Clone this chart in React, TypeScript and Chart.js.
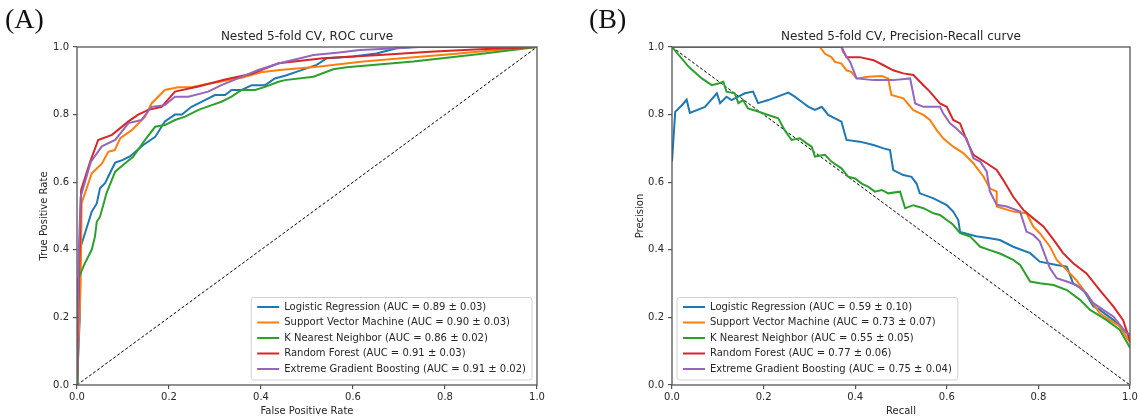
import React, { useEffect, useRef } from 'react';
import { Chart, registerables } from 'chart.js';

Chart.register(...registerables);

// ---------- data ----------
const modelNames = ['Logistic Regression', 'Support Vector Machine', 'K Nearest Neighbor', 'Random Forest', 'Extreme Gradient Boosting'];
const modelColors = ['#1f77b4', '#ff7f0e', '#2ca02c', '#d62728', '#9467bd'];
const rocAucText = ['0.89 ± 0.03', '0.90 ± 0.03', '0.86 ± 0.02', '0.91 ± 0.03', '0.91 ± 0.02'];
const prAucText = ['0.59 ± 0.10', '0.73 ± 0.07', '0.55 ± 0.05', '0.77 ± 0.06', '0.75 ± 0.04'];
const tickValues = [0, 0.2, 0.4, 0.6, 0.8, 1.0];

// ROC curves (FPR, TPR)
const rocLrFpr = [0, 0.006, 0.006, 0.024, 0.032, 0.043, 0.05, 0.061, 0.075, 0.083, 0.1, 0.115, 0.144, 0.17, 0.191, 0.213, 0.228, 0.249, 0.278, 0.3, 0.322, 0.336, 0.358, 0.38, 0.409, 0.43, 0.452, 0.48, 0.521, 0.543, 0.6, 0.651, 0.695, 0.73, 0.85, 1.0];
const rocLrTpr = [0, 0.2, 0.4, 0.478, 0.513, 0.537, 0.582, 0.597, 0.636, 0.658, 0.666, 0.676, 0.71, 0.734, 0.78, 0.8, 0.8, 0.823, 0.843, 0.858, 0.858, 0.873, 0.873, 0.887, 0.887, 0.907, 0.915, 0.928, 0.947, 0.967, 0.972, 0.981, 0.996, 1.0, 1.0, 1.0];

const rocSvmFpr = [0, 0.008, 0.01, 0.032, 0.054, 0.068, 0.082, 0.094, 0.119, 0.148, 0.162, 0.191, 0.22, 0.249, 0.28, 0.322, 0.36, 0.4, 0.441, 0.528, 0.622, 0.745, 0.818, 0.9, 1.0];
const rocSvmTpr = [0, 0.3, 0.538, 0.626, 0.655, 0.69, 0.695, 0.73, 0.754, 0.794, 0.833, 0.873, 0.881, 0.881, 0.89, 0.9, 0.91, 0.925, 0.932, 0.942, 0.957, 0.971, 0.979, 0.99, 1.0];

const rocKnnFpr = [0, 0.0015, 0.017, 0.032, 0.039, 0.043, 0.05, 0.057, 0.064, 0.083, 0.1, 0.122, 0.148, 0.17, 0.191, 0.213, 0.235, 0.264, 0.293, 0.314, 0.336, 0.358, 0.387, 0.409, 0.438, 0.452, 0.514, 0.557, 0.586, 0.731, 0.876, 1.0];
const rocKnnTpr = [0, 0.31, 0.36, 0.4, 0.439, 0.483, 0.498, 0.532, 0.567, 0.631, 0.651, 0.675, 0.725, 0.764, 0.769, 0.784, 0.794, 0.814, 0.828, 0.838, 0.853, 0.873, 0.873, 0.882, 0.897, 0.902, 0.912, 0.934, 0.94, 0.957, 0.979, 1.0];

const rocRfFpr = [0, 0.004, 0.009, 0.028, 0.046, 0.076, 0.112, 0.133, 0.155, 0.184, 0.213, 0.264, 0.322, 0.38, 0.438, 0.535, 0.658, 0.767, 0.876, 1.0];
const rocRfTpr = [0, 0.3, 0.577, 0.658, 0.725, 0.74, 0.78, 0.8, 0.814, 0.823, 0.868, 0.883, 0.904, 0.921, 0.952, 0.967, 0.976, 0.986, 0.993, 1.0];

const rocXgbFpr = [0, 0.004, 0.008, 0.03, 0.054, 0.083, 0.112, 0.14, 0.162, 0.191, 0.213, 0.242, 0.285, 0.314, 0.35, 0.394, 0.438, 0.514, 0.565, 0.615, 0.695, 0.745, 1.0];
const rocXgbTpr = [0, 0.4, 0.557, 0.66, 0.706, 0.725, 0.775, 0.784, 0.823, 0.828, 0.853, 0.853, 0.868, 0.887, 0.907, 0.932, 0.951, 0.976, 0.983, 0.991, 0.996, 1.0, 1.0];

// Precision-Recall curves (Recall, Precision)
const prLrRec = [0, 0.007, 0.021, 0.032, 0.039, 0.072, 0.098, 0.105, 0.119, 0.13, 0.159, 0.177, 0.188, 0.21, 0.254, 0.268, 0.283, 0.298, 0.312, 0.327, 0.341, 0.37, 0.381, 0.41, 0.44, 0.462, 0.476, 0.483, 0.505, 0.523, 0.534, 0.541, 0.571, 0.6, 0.614, 0.625, 0.629, 0.664, 0.694, 0.716, 0.745, 0.782, 0.803, 0.84, 0.862, 0.876, 0.898, 0.92, 0.934, 0.964, 0.985, 1.0];
const prLrPrec = [0.661, 0.808, 0.827, 0.844, 0.805, 0.823, 0.863, 0.834, 0.853, 0.843, 0.863, 0.868, 0.834, 0.843, 0.865, 0.853, 0.838, 0.823, 0.814, 0.823, 0.799, 0.779, 0.725, 0.72, 0.71, 0.7, 0.695, 0.636, 0.621, 0.616, 0.596, 0.567, 0.552, 0.532, 0.513, 0.488, 0.453, 0.44, 0.434, 0.429, 0.409, 0.39, 0.365, 0.355, 0.35, 0.3, 0.282, 0.232, 0.222, 0.192, 0.163, 0.148];

const prSvmRec = [0, 0.323, 0.334, 0.348, 0.356, 0.37, 0.381, 0.392, 0.403, 0.428, 0.458, 0.472, 0.479, 0.505, 0.527, 0.549, 0.563, 0.578, 0.592, 0.614, 0.636, 0.658, 0.68, 0.694, 0.709, 0.709, 0.745, 0.774, 0.789, 0.803, 0.825, 0.84, 0.862, 0.883, 0.905, 0.934, 0.956, 0.978, 1.0];
const prSvmPrec = [1.0, 1.0, 0.98, 0.97, 0.956, 0.951, 0.931, 0.926, 0.907, 0.912, 0.914, 0.907, 0.858, 0.848, 0.813, 0.799, 0.784, 0.754, 0.73, 0.705, 0.686, 0.656, 0.617, 0.582, 0.572, 0.528, 0.513, 0.508, 0.468, 0.449, 0.41, 0.37, 0.34, 0.31, 0.27, 0.212, 0.192, 0.173, 0.125];

const prKnnRec = [0, 0.036, 0.065, 0.087, 0.101, 0.112, 0.119, 0.137, 0.145, 0.155, 0.166, 0.188, 0.21, 0.232, 0.246, 0.261, 0.279, 0.294, 0.305, 0.312, 0.334, 0.348, 0.37, 0.385, 0.4, 0.414, 0.428, 0.443, 0.458, 0.472, 0.498, 0.509, 0.527, 0.549, 0.571, 0.585, 0.614, 0.629, 0.651, 0.673, 0.694, 0.716, 0.745, 0.76, 0.782, 0.803, 0.833, 0.862, 0.891, 0.913, 0.949, 0.978, 1.0];
const prKnnPrec = [1.0, 0.942, 0.907, 0.887, 0.892, 0.897, 0.868, 0.863, 0.834, 0.843, 0.818, 0.809, 0.799, 0.789, 0.754, 0.725, 0.73, 0.715, 0.705, 0.676, 0.681, 0.661, 0.641, 0.616, 0.611, 0.596, 0.587, 0.572, 0.577, 0.567, 0.572, 0.523, 0.532, 0.523, 0.508, 0.503, 0.474, 0.449, 0.439, 0.409, 0.399, 0.389, 0.37, 0.355, 0.306, 0.301, 0.296, 0.281, 0.252, 0.222, 0.192, 0.163, 0.11];

const prRfRec = [0, 0.37, 0.381, 0.41, 0.44, 0.462, 0.483, 0.505, 0.527, 0.549, 0.563, 0.585, 0.6, 0.614, 0.629, 0.643, 0.658, 0.687, 0.709, 0.723, 0.745, 0.767, 0.789, 0.811, 0.833, 0.854, 0.876, 0.905, 0.934, 0.964, 0.985, 1.0];
const prRfPrec = [1.0, 1.0, 0.97, 0.97, 0.961, 0.946, 0.931, 0.922, 0.917, 0.887, 0.868, 0.833, 0.823, 0.784, 0.774, 0.725, 0.681, 0.656, 0.636, 0.607, 0.557, 0.518, 0.493, 0.469, 0.43, 0.39, 0.36, 0.33, 0.281, 0.232, 0.192, 0.13];

const prXgbRec = [0, 0.37, 0.374, 0.389, 0.403, 0.44, 0.483, 0.52, 0.531, 0.549, 0.585, 0.592, 0.607, 0.621, 0.643, 0.658, 0.673, 0.687, 0.694, 0.709, 0.731, 0.76, 0.774, 0.789, 0.803, 0.825, 0.84, 0.862, 0.883, 0.905, 0.92, 0.964, 0.993, 1.0];
const prXgbPrec = [1.0, 1.0, 0.985, 0.956, 0.907, 0.902, 0.902, 0.907, 0.833, 0.823, 0.823, 0.804, 0.774, 0.759, 0.73, 0.671, 0.661, 0.632, 0.573, 0.533, 0.528, 0.513, 0.454, 0.444, 0.425, 0.346, 0.316, 0.306, 0.296, 0.271, 0.242, 0.202, 0.153, 0.15];

// chance lines
const refX = [0, 1];
const rocRefY = [0, 1];
const prRefY = [1, 0];

// ---------- helpers ----------
const FONT = "'DejaVu Sans', 'Noto Sans', sans-serif";
const TEXT = '#262626';
const SPINE = '#555555';

const pts = (xs: number[], ys: number[]) => xs.map((x, i) => ({ x, y: ys[i] }));

const framePlugin = {
  id: 'frameBox',
  afterDatasetsDraw(chart: any) {
    const { ctx, chartArea } = chart;
    const { left, top, right, bottom } = chartArea;
    ctx.save();
    ctx.strokeStyle = SPINE;
    ctx.lineWidth = 1.3;
    ctx.strokeRect(left, top, right - left, bottom - top);
    ctx.restore();
  },
};

const legendPlugin = {
  id: 'insideLegend',
  afterDraw(chart: any, _args: any, opts: any) {
    const { ctx, chartArea } = chart;
    const items = chart.data.datasets.filter((d: any) => !d.isRef);
    ctx.save();
    ctx.font = `10px ${FONT}`;
    const textW = Math.max(...items.map((d: any) => ctx.measureText(d.label).width));
    const pad = 6, handle = 22, gap = 5, row = 15.5;
    const boxW = pad + handle + gap + textW + pad;
    const boxH = items.length * row + 5;
    const x0 = opts.side === 'right' ? chartArea.right - 5 - boxW : chartArea.left + 5;
    const y0 = chartArea.bottom - 5 - boxH;
    ctx.beginPath();
    const r = 2.5;
    ctx.moveTo(x0 + r, y0);
    ctx.lineTo(x0 + boxW - r, y0);
    ctx.quadraticCurveTo(x0 + boxW, y0, x0 + boxW, y0 + r);
    ctx.lineTo(x0 + boxW, y0 + boxH - r);
    ctx.quadraticCurveTo(x0 + boxW, y0 + boxH, x0 + boxW - r, y0 + boxH);
    ctx.lineTo(x0 + r, y0 + boxH);
    ctx.quadraticCurveTo(x0, y0 + boxH, x0, y0 + boxH - r);
    ctx.lineTo(x0, y0 + r);
    ctx.quadraticCurveTo(x0, y0, x0 + r, y0);
    ctx.closePath();
    ctx.fillStyle = 'rgba(255,255,255,0.85)';
    ctx.fill();
    ctx.strokeStyle = '#d0d0d0';
    ctx.lineWidth = 1;
    ctx.stroke();
    items.forEach((d: any, i: number) => {
      const cy = y0 + 9.5 + i * row;
      ctx.beginPath();
      ctx.strokeStyle = d.borderColor;
      ctx.lineWidth = 2;
      ctx.moveTo(x0 + pad, cy);
      ctx.lineTo(x0 + pad + handle, cy);
      ctx.stroke();
      ctx.fillStyle = TEXT;
      ctx.textBaseline = 'middle';
      ctx.textAlign = 'left';
      ctx.fillText(d.label, x0 + pad + handle + gap, cy);
    });
    ctx.restore();
  },
};

function buildConfig(opts: {
  title: string;
  xTitle: string;
  yTitle: string;
  curves: { xs: number[]; ys: number[] }[];
  auc: string[];
  refY: number[];
  yAxisWidth: number;
  yTitleOffset: number;
  rightPad: number;
  legendSide: 'left' | 'right';
}) {
  const datasets: any[] = opts.curves.map((c, i) => ({
    label: `${modelNames[i]} (AUC = ${opts.auc[i]})`,
    data: pts(c.xs, c.ys),
    borderColor: modelColors[i],
    backgroundColor: modelColors[i],
    borderWidth: 2,
    pointRadius: 0,
    tension: 0,
    fill: false,
    order: 5 - i,
  }));
  datasets.push({
    label: 'chance',
    isRef: true,
    data: pts(refX, opts.refY),
    borderColor: '#000000',
    borderWidth: 1,
    borderDash: [3, 2],
    pointRadius: 0,
    fill: false,
    order: 10,
  });

  const tickFmt = (v: any) => Number(v).toFixed(1);
  const axisCommon = {
    type: 'linear' as const,
    min: 0,
    max: 1,
    afterBuildTicks: (s: any) => {
      s.ticks = tickValues.map((v) => ({ value: v }));
    },
    grid: {
      display: true,
      drawOnChartArea: false,
      drawTicks: true,
      tickLength: 4,
      color: SPINE,
      lineWidth: 1.2,
    },
    border: { display: false },
  };

  return {
    type: 'line' as const,
    data: { datasets },
    options: {
      responsive: false,
      animation: false,
      devicePixelRatio: 1,
      events: [],
      layout: { padding: { left: 0, top: 0, bottom: 0, right: opts.rightPad } },
      plugins: {
        legend: { display: false },
        tooltip: { enabled: false },
        title: { display: false },
        insideLegend: { side: opts.legendSide },
      },
      scales: {
        x: {
          ...axisCommon,
          position: 'bottom',
          ticks: {
            callback: tickFmt,
            font: { family: FONT, size: 10 },
            color: TEXT,
            padding: 2,
            maxRotation: 0,
            autoSkip: false,
          },
          title: {
            display: true,
            text: opts.xTitle,
            font: { family: FONT, size: 10 },
            color: TEXT,
            padding: { top: 0, bottom: 2 },
          },
          afterFit: (s: any) => {
            s.height = 34;
          },
        },
        x2: {
          type: 'linear',
          position: 'top',
          min: 0,
          max: 1,
          ticks: { display: false },
          grid: { display: false },
          border: { display: false },
          title: {
            display: true,
            text: opts.title,
            font: { family: FONT, size: 12 },
            color: TEXT,
            padding: { top: 30, bottom: 0 },
          },
          afterFit: (s: any) => {
            s.height = 47;
          },
        },
        y: {
          ...axisCommon,
          position: 'left',
          ticks: {
            callback: tickFmt,
            font: { family: FONT, size: 10 },
            color: TEXT,
            padding: 4,
            autoSkip: false,
          },
          title: {
            display: true,
            text: opts.yTitle,
            font: { family: FONT, size: 10 },
            color: TEXT,
            padding: { top: opts.yTitleOffset, bottom: 0 },
          },
          afterFit: (s: any) => {
            s.width = opts.yAxisWidth;
          },
        },
      },
    },
    plugins: [framePlugin, legendPlugin],
  };
}

function ChartCanvas({ config, width, height, left }: { config: any; width: number; height: number; left: number }) {
  const ref = useRef<HTMLCanvasElement | null>(null);
  useEffect(() => {
    if (!ref.current) return;
    const chart = new Chart(ref.current, config);
    return () => chart.destroy();
  }, [config]);
  return (
    <canvas
      ref={ref}
      width={width}
      height={height}
      style={{ position: 'absolute', left, top: 0, width, height }}
    />
  );
}

const rocConfig = buildConfig({
  title: 'Nested 5-fold CV, ROC curve',
  xTitle: 'False Positive Rate',
  yTitle: 'True Positive Rate',
  curves: [
    { xs: rocLrFpr, ys: rocLrTpr },
    { xs: rocSvmFpr, ys: rocSvmTpr },
    { xs: rocKnnFpr, ys: rocKnnTpr },
    { xs: rocRfFpr, ys: rocRfTpr },
    { xs: rocXgbFpr, ys: rocXgbTpr },
  ],
  auc: rocAucText,
  refY: rocRefY,
  yAxisWidth: 77,
  yTitleOffset: 38,
  rightPad: 33,
  legendSide: 'right',
});

const prConfig = buildConfig({
  title: 'Nested 5-fold CV, Precision-Recall curve',
  xTitle: 'Recall',
  yTitle: 'Precision',
  curves: [
    { xs: prLrRec, ys: prLrPrec },
    { xs: prSvmRec, ys: prSvmPrec },
    { xs: prKnnRec, ys: prKnnPrec },
    { xs: prRfRec, ys: prRfPrec },
    { xs: prXgbRec, ys: prXgbPrec },
  ],
  auc: prAucText,
  refY: prRefY,
  yAxisWidth: 102,
  yTitleOffset: 64,
  rightPad: 11,
  legendSide: 'left',
});

const panelLabel: React.CSSProperties = {
  position: 'absolute',
  top: 3,
  fontFamily: "'Liberation Serif', 'Times New Roman', serif",
  fontSize: 28,
  lineHeight: '32px',
  color: '#111',
};

export default function App() {
  return (
    <div
      style={{
        position: 'fixed',
        left: 0,
        top: 0,
        width: 1141,
        height: 419,
        overflow: 'hidden',
        background: '#ffffff',
      }}
    >
      <ChartCanvas config={rocConfig} width={570} height={419} left={0} />
      <ChartCanvas config={prConfig} width={571} height={419} left={570} />
      <div style={{ ...panelLabel, left: 5 }}>(A)</div>
      <div style={{ ...panelLabel, left: 589 }}>(B)</div>
    </div>
  );
}
